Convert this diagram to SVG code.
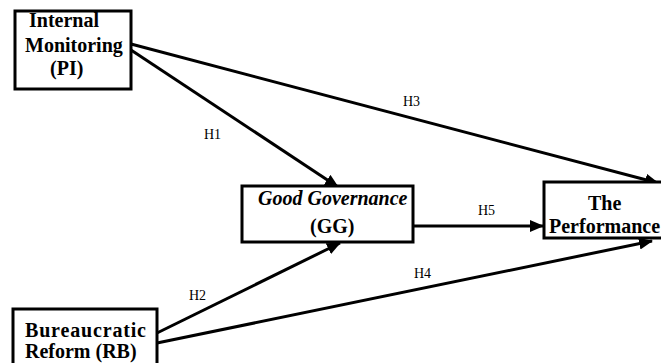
<svg xmlns="http://www.w3.org/2000/svg" width="661" height="363" viewBox="0 0 661 363">
<style>
.box{fill:#fff;stroke:#000;stroke-width:3}
.t{font-family:"Liberation Serif","Times New Roman",serif;font-weight:bold;font-size:20px;fill:#000}
.ti{font-style:italic}
.lbl{font-family:"Liberation Serif","Times New Roman",serif;font-size:14px;fill:#000}
.c{stroke:#000;stroke-width:3;fill:none;marker-end:url(#ah)}
</style>
<defs>
<marker id="ah" markerUnits="userSpaceOnUse" markerWidth="14" markerHeight="12" refX="13" refY="6" orient="auto">
<path d="M0,0 L14,6 L0,12 Z" fill="#000"/>
</marker>
</defs>
<rect width="661" height="363" fill="#fff"/>
<g id="connectors">
<line class="c" x1="131" y1="44" x2="658" y2="183"/>
<line class="c" x1="131" y1="50" x2="338" y2="187"/>
<line class="c" x1="413" y1="226" x2="543" y2="226"/>
<line class="c" x1="157" y1="333" x2="340" y2="243"/>
<line class="c" x1="157" y1="343" x2="652" y2="241"/>
<text class="lbl" x="204" y="139">H1</text>
<text class="lbl" x="403" y="106">H3</text>
<text class="lbl" x="478" y="215">H5</text>
<text class="lbl" x="414" y="278">H4</text>
<text class="lbl" x="189" y="300">H2</text>
</g>
<g id="PI">
<rect class="box" x="15" y="11" width="116" height="78"/>
<text class="t" x="29" y="27">Internal</text>
<text class="t" x="25" y="52">Monitoring</text>
<text class="t" x="50" y="75">(PI)</text>
</g>
<g id="GG">
<rect class="box" x="242" y="186" width="171" height="56"/>
<text class="t ti" x="258" y="205">Good Governance</text>
<text class="t" x="310" y="233">(GG)</text>
</g>
<g id="Performance">
<rect class="box" x="544" y="182" width="130" height="56"/>
<text class="t" x="588" y="210">The</text>
<text class="t" x="549" y="233">Performance</text>
</g>
<g id="RB">
<rect class="box" x="13" y="309" width="144" height="70"/>
<text class="t" x="25" y="337" textLength="121" lengthAdjust="spacing">Bureaucratic</text>
<text class="t" x="25" y="358">Reform (RB)</text>
</g>
</svg>
